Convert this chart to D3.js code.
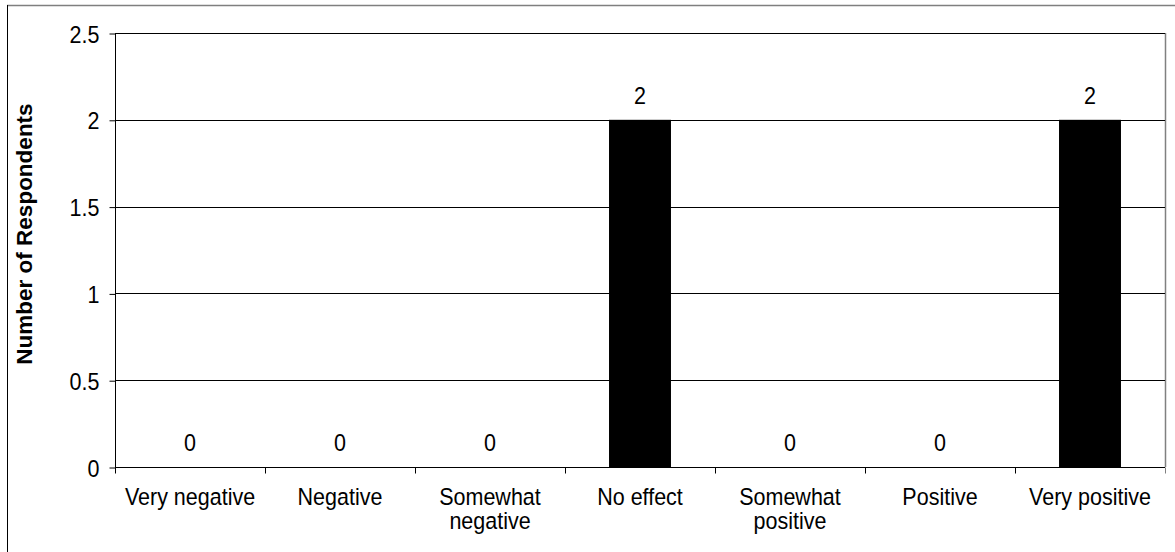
<!DOCTYPE html>
<html>
<head>
<meta charset="utf-8">
<script src="https://cdn.jsdelivr.net/npm/d3@7"></script>
<style>
  html, body { margin: 0; padding: 0; background: #fff; }
  svg { display: block; }
  text { font-family: Arial, "Liberation Sans", sans-serif; fill: #000; }
</style>
</head>
<body>
<svg id="chart" width="1175" height="552"></svg>
<script>
const categories = ["Very negative", "Negative", "Somewhat negative", "No effect", "Somewhat positive", "Positive", "Very positive"];
const values = [0, 0, 0, 2, 0, 0, 2];
const yTicks = [0, 0.5, 1, 1.5, 2, 2.5];
const yTickLabels = ["0", "0.5", "1", "1.5", "2", "2.5"];
const yTitle = "Number of Respondents";

const W = 1175, H = 552;
const m = { left: 115, right: 1165, top: 33, bottom: 467 };
const svg = d3.select("#chart");
const fontSize = 21.5;
const sy = 1.1; // vertical stretch of glyphs in the reference

// outer chart border
svg.append("line").attr("x1", 7).attr("x2", W).attr("y1", 5.5).attr("y2", 5.5)
  .attr("stroke", "#7f7f7f").attr("stroke-width", 1.5);
svg.append("line").attr("x1", 7.5).attr("x2", 7.5).attr("y1", 5).attr("y2", H)
  .attr("stroke", "#000").attr("stroke-width", 1);

const y = d3.scaleLinear().domain([0, 2.5]).range([m.bottom, m.top]);
const xCat = d3.scaleBand().domain(categories).range([m.left, m.right]).padding(0);
const xBar = d3.scaleBand().domain(categories).range([m.left, m.right])
  .paddingInner(0.587).paddingOuter(0.2935);

// plot area right border (grey)
svg.append("line").attr("x1", m.right + 0.5).attr("x2", m.right + 0.5)
  .attr("y1", m.top).attr("y2", m.bottom).attr("stroke", "#808080").attr("stroke-width", 1.5);

// gridlines
svg.append("g").selectAll("line").data(yTicks.filter(t => t > 0)).join("line")
  .attr("x1", m.left).attr("x2", m.right)
  .attr("y1", d => Math.round(y(d)) + 0.5).attr("y2", d => Math.round(y(d)) + 0.5)
  .attr("stroke", "#000").attr("stroke-width", 1);

// bars
svg.append("g").selectAll("rect").data(values).join("rect")
  .attr("x", (d, i) => xBar(categories[i]))
  .attr("width", xBar.bandwidth())
  .attr("y", d => y(d))
  .attr("height", d => y(0) - y(d))
  .attr("fill", "#000");

// value labels
svg.append("g").selectAll("text").data(values).join("text")
  .attr("transform", (d, i) => `translate(${xCat(categories[i]) + xCat.bandwidth() / 2},${y(d) - 16}) scale(1,${sy})`)
  .attr("text-anchor", "middle")
  .style("font-size", fontSize + "px")
  .text(d => d);

// y axis
const yAxis = d3.axisLeft(y).tickValues(yTicks)
  .tickFormat((d, i) => yTickLabels[i]).tickSize(6).tickPadding(10);
const gy = svg.append("g").attr("transform", `translate(${m.left + 0.5},0.5)`).call(yAxis);
gy.select(".domain").attr("stroke", "#000").attr("d", `M0,${m.top}V${m.bottom}`);
gy.selectAll(".tick line").attr("stroke", "#000");
gy.selectAll(".tick text")
  .attr("x", null).attr("dy", null)
  .attr("transform", `translate(-16,${fontSize * 0.36 * sy}) scale(1,${sy})`)
  .style("font-size", fontSize + "px")
  .style("font-family", 'Arial, "Liberation Sans", sans-serif').attr("fill", "#000");

// x axis
const gx = svg.append("g").attr("transform", `translate(0,${m.bottom + 0.5})`);
gx.append("line").attr("x1", m.left).attr("x2", m.right).attr("stroke", "#000");
const bounds = categories.map(c => xCat(c)).concat([m.right]);
gx.selectAll("line.tk").data(bounds).join("line").attr("class", "tk")
  .attr("x1", d => Math.round(d) + 0.5).attr("x2", d => Math.round(d) + 0.5)
  .attr("y1", 0).attr("y2", 6).attr("stroke", (d, i) => i === bounds.length - 1 ? "#808080" : "#000");

// category labels with wrapping
const maxW = 140;
const labels = gx.selectAll("text.cat").data(categories).join("text").attr("class", "cat")
  .attr("text-anchor", "middle")
  .attr("transform", c => `translate(${xCat(c) + xCat.bandwidth() / 2},37) scale(1,${sy})`)
  .style("font-size", fontSize + "px");
labels.each(function(c) {
  const t = d3.select(this);
  const words = c.split(" ");
  let lines = [];
  let cur = [];
  const probe = t.append("tspan");
  words.forEach(w => {
    const test = cur.concat([w]).join(" ");
    probe.text(test);
    if (probe.node().getComputedTextLength() > maxW && cur.length) {
      lines.push(cur.join(" "));
      cur = [w];
    } else cur.push(w);
  });
  lines.push(cur.join(" "));
  probe.remove();
  lines.forEach((ln, i) => {
    t.append("tspan").attr("x", 0).attr("y", i * 25 / sy).text(ln);
  });
});

// y title
svg.append("text")
  .attr("transform", `translate(32,${(m.top + m.bottom) / 2 - 16}) rotate(-90)`)
  .attr("text-anchor", "middle")
  .style("font-size", "22.5px").style("font-weight", "bold")
  .text(yTitle);
</script>
</body>
</html>
